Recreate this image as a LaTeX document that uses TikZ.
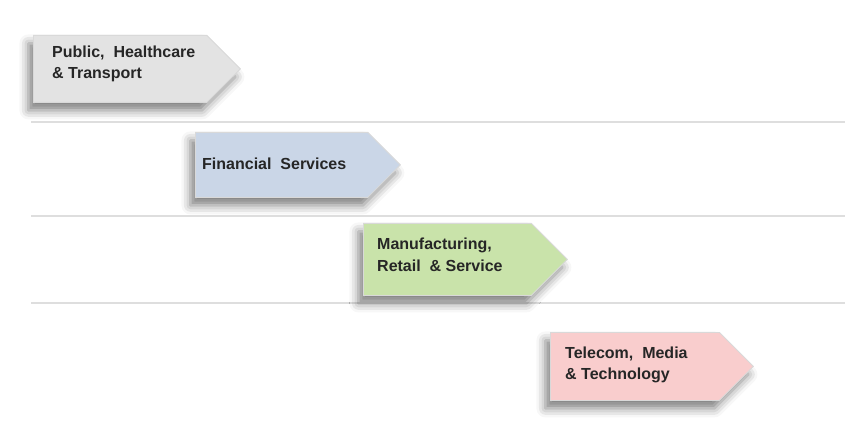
\documentclass[tikz,border=0pt]{standalone}
\usepackage{fontspec}
\setmainfont{Liberation Sans}
\usetikzlibrary{shapes.symbols,shadows.blur,calc}
\definecolor{sepline}{HTML}{DEDEDE}
\definecolor{txtcol}{HTML}{262626}
\definecolor{cgray}{HTML}{E3E3E3}
\definecolor{cblue}{HTML}{CAD6E7}
\definecolor{cgreen}{HTML}{C9E3AA}
\definecolor{cpink}{HTML}{F9CDCD}
\tikzset{
  arrowbox/.style={shape=signal, signal to=east, signal pointer angle=90,
    draw=white!85!black, line width=0.8pt, inner sep=0pt, anchor=north west,
    blur shadow={shadow xshift=-5pt, shadow yshift=-8pt, shadow blur radius=9pt, shadow opacity=50}},
  lbl/.style={anchor=west, align=left, inner sep=0pt, text=txtcol,
    font=\fontsize{16}{21.5}\selectfont\bfseries},
  sep/.style={draw=sepline, line width=1.5pt}
}
\begin{document}
\begin{tikzpicture}[x=1pt,y=-1pt]
\useasboundingbox (0,0) rectangle (859,438);
\coordinate (l1a) at (31,122); \coordinate (l1b) at (845,122);
\coordinate (l2a) at (31,216); \coordinate (l2b) at (845,216);
\coordinate (l3a) at (31,303); \coordinate (l3b) at (845,303);
\draw[sep] (l1a) -- (l1b);
\draw[sep] (l2a) -- (l2b);
\draw[sep] (l3a) -- (l3b);
\node[arrowbox, fill=cgray, minimum width=207pt, minimum height=67pt] (s1) at (33,35) {};
\node[lbl] (t1) at (52,64) {Public,\ \ Healthcare\\\& Transport};
\node[arrowbox, fill=cblue, minimum width=205pt, minimum height=65pt] (s2) at (195,132) {};
\node[lbl] (t2) at (202,164) {Financial\ \ Services};
\node[arrowbox, fill=cgreen, minimum width=204pt, minimum height=72pt] (s3) at (363,223) {};
\node[lbl] (t3) at (377,255) {Manufacturing,\\Retail\ \ \& Service};
\node[arrowbox, fill=cpink, minimum width=203pt, minimum height=68pt] (s4) at (550,332) {};
\node[lbl] (t4) at (565,365) {Telecom,\ \ Media\\\& Technology};
\end{tikzpicture}
\end{document}
